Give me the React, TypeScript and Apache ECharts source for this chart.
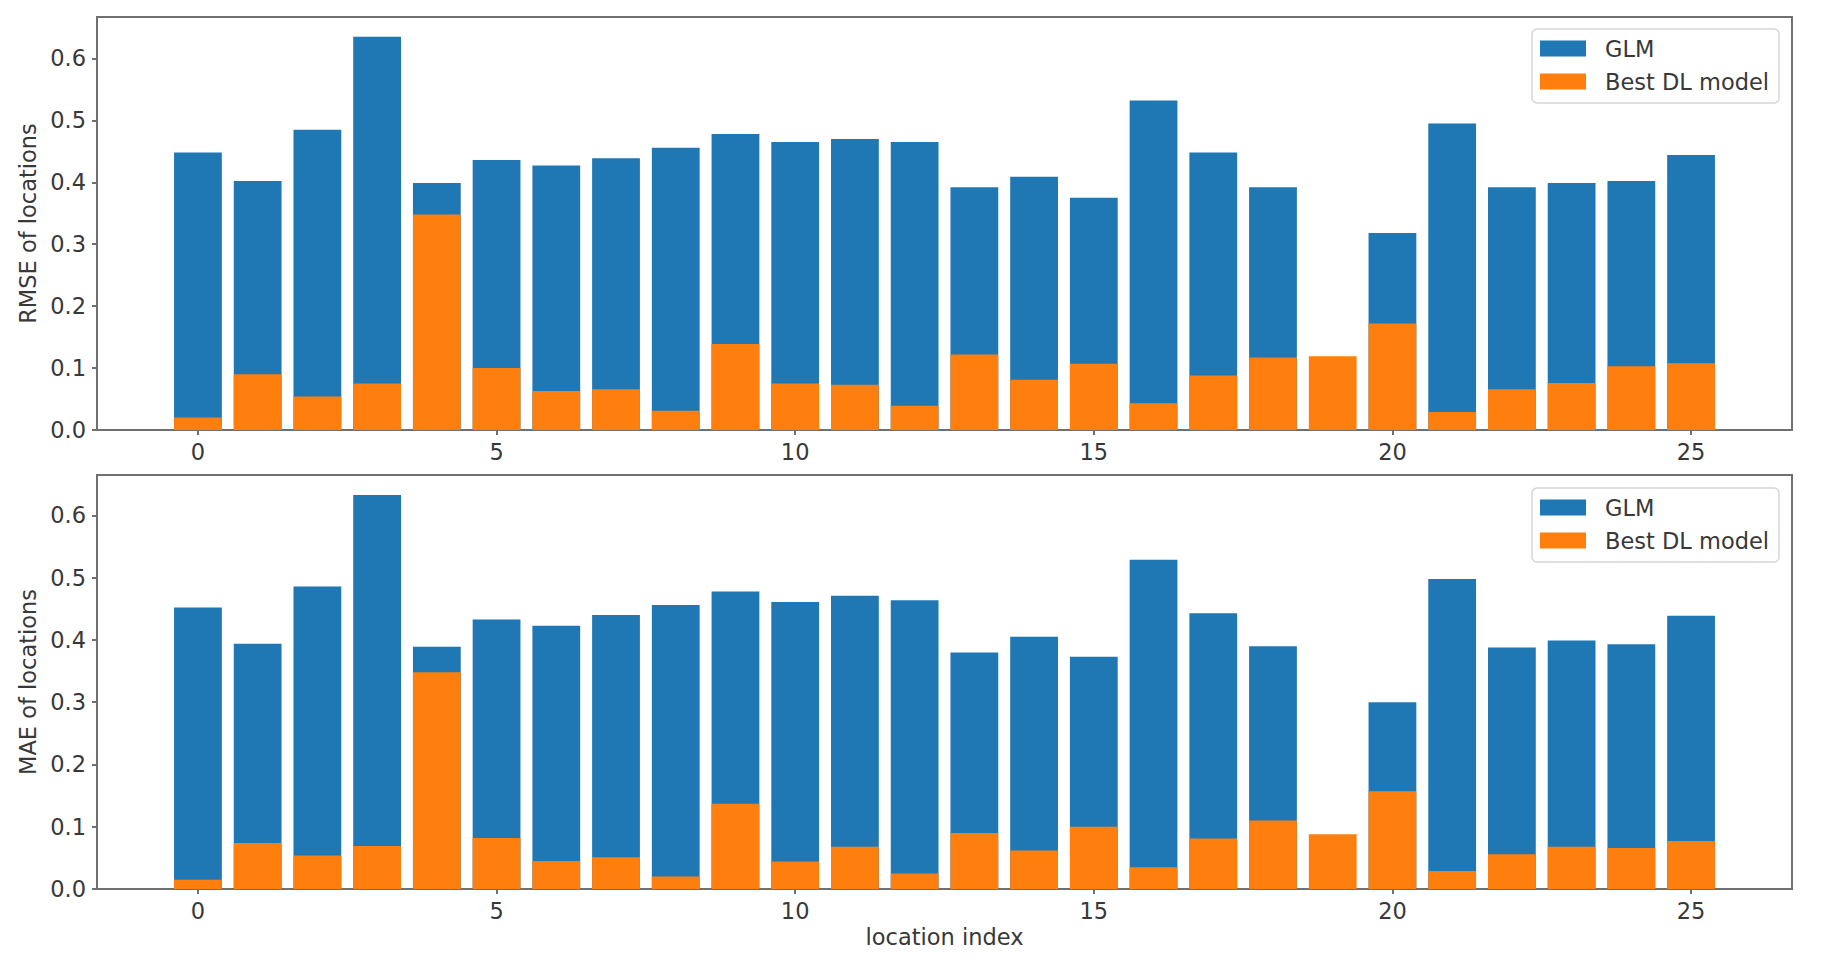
import React, { useEffect, useRef } from "react";
import * as echarts from "echarts";

const locationIndex = [0, 1, 2, 3, 4, 5, 6, 7, 8, 9, 10, 11, 12, 13, 14, 15, 16, 17, 18, 19, 20, 21, 22, 23, 24, 25];
const xTickValues = [0, 5, 10, 15, 20, 25];
const yTickValues = [0, 0.1, 0.2, 0.3, 0.4, 0.5, 0.6];
const seriesNames = ["GLM", "Best DL model"];

const rmseGLM = [0.448, 0.402, 0.485, 0.635, 0.399, 0.436, 0.427, 0.439, 0.456, 0.478, 0.465, 0.470, 0.465, 0.392, 0.409, 0.375, 0.532, 0.448, 0.392, null, 0.318, 0.495, 0.392, 0.399, 0.402, 0.444];
const rmseDL = [0.020, 0.090, 0.054, 0.075, 0.348, 0.100, 0.063, 0.066, 0.031, 0.139, 0.075, 0.073, 0.039, 0.122, 0.081, 0.107, 0.043, 0.088, 0.117, 0.119, 0.172, 0.029, 0.066, 0.076, 0.103, 0.108];
const maeGLM = [0.452, 0.394, 0.486, 0.633, 0.389, 0.433, 0.423, 0.440, 0.456, 0.478, 0.461, 0.471, 0.464, 0.380, 0.405, 0.373, 0.529, 0.443, 0.390, null, 0.300, 0.498, 0.388, 0.399, 0.393, 0.439];
const maeDL = [0.015, 0.074, 0.054, 0.069, 0.348, 0.082, 0.045, 0.051, 0.020, 0.137, 0.044, 0.068, 0.025, 0.090, 0.062, 0.100, 0.035, 0.081, 0.110, 0.088, 0.157, 0.029, 0.056, 0.068, 0.066, 0.077];

const COLORS = ["#1f77b4", "#ff7f0e"];
const FONT = "DejaVu Sans";
const TEXT = "#383838";
const SPINE = "#707070";
const FS = 22.5;
const BAR_HALF = 0.4;

function toData(vals: (number | null)[]) {
  const out: number[][] = [];
  vals.forEach((v, k) => {
    if (v !== null && v !== undefined) out.push([locationIndex[k], v]);
  });
  return out;
}

function barSeries(name: string, vals: (number | null)[], gridIdx: number, color: string) {
  return {
    type: "custom",
    name,
    xAxisIndex: gridIdx,
    yAxisIndex: gridIdx,
    itemStyle: { color },
    encode: { x: 0, y: 1 },
    data: toData(vals),
    renderItem: (params: any, api: any) => {
      const x = api.value(0);
      const v = api.value(1);
      const p1 = api.coord([x - BAR_HALF, v]);
      const p0 = api.coord([x + BAR_HALF, 0]);
      return {
        type: "rect",
        shape: { x: p1[0], y: p1[1], width: p0[0] - p1[0], height: p0[1] - p1[1] },
        style: { fill: color },
      };
    },
  };
}

function xAxis(gridIndex: number, name: string) {
  return {
    type: "value",
    gridIndex,
    position: "bottom",
    min: -1.69,
    max: 26.69,
    name,
    nameLocation: "middle",
    nameGap: 36,
    nameTextStyle: { fontSize: FS, color: TEXT, fontFamily: FONT },
    axisLine: { show: false, onZero: false },
    splitLine: { show: false },
    axisTick: { show: true, length: 5, lineStyle: { color: SPINE, width: 2 }, customValues: xTickValues },
    axisLabel: {
      show: true,
      margin: 10,
      fontSize: FS,
      color: TEXT,
      fontFamily: FONT,
      customValues: xTickValues,
      formatter: (v: number) => String(Math.round(v)),
    },
  };
}

function yAxis(gridIndex: number, name: string, max: number) {
  return {
    type: "value",
    gridIndex,
    position: "left",
    min: 0,
    max,
    name,
    nameLocation: "middle",
    nameGap: 56,
    nameTextStyle: { fontSize: FS, color: TEXT, fontFamily: FONT },
    axisLine: { show: false, onZero: false },
    splitLine: { show: false },
    axisTick: { show: true, length: 5, lineStyle: { color: SPINE, width: 2 }, customValues: yTickValues },
    axisLabel: {
      show: true,
      margin: 11,
      fontSize: FS,
      color: TEXT,
      fontFamily: FONT,
      customValues: yTickValues,
      formatter: (v: number) => v.toFixed(1),
    },
  };
}

function legend(top: number) {
  return {
    orient: "vertical",
    left: 1532,
    top,
    icon: "rect",
    itemWidth: 46,
    itemHeight: 16,
    itemGap: 10,
    padding: [8, 10, 10, 8],
    borderColor: "#d6d6d6",
    borderWidth: 1.5,
    borderRadius: 5,
    backgroundColor: "#ffffff",
    selectedMode: false,
    data: seriesNames,
    textStyle: { fontSize: FS, color: TEXT, fontFamily: FONT, padding: [0, 0, 0, 14] },
  };
}

export default function App() {
  const ref = useRef<HTMLDivElement>(null);
  useEffect(() => {
    if (!ref.current) return;
    const chart = echarts.init(ref.current, null, { renderer: "svg" });
    const gridBase = { left: 97, width: 1695, show: true, borderColor: SPINE, borderWidth: 2, backgroundColor: "transparent" };
    chart.setOption({
      animation: false,
      backgroundColor: "#ffffff",
      textStyle: { fontFamily: FONT },
      color: COLORS,
      grid: [
        { ...gridBase, top: 17, height: 413 },
        { ...gridBase, top: 475, height: 414 },
      ],
      xAxis: [xAxis(0, ""), xAxis(1, "location index")],
      yAxis: [yAxis(0, "RMSE of locations", 0.667), yAxis(1, "MAE of locations", 0.665)],
      legend: [legend(29), legend(488)],
      series: [
        barSeries(seriesNames[0], rmseGLM, 0, COLORS[0]),
        barSeries(seriesNames[1], rmseDL, 0, COLORS[1]),
        barSeries(seriesNames[0], maeGLM, 1, COLORS[0]),
        barSeries(seriesNames[1], maeDL, 1, COLORS[1]),
      ],
    });
    return () => chart.dispose();
  }, []);
  return <div ref={ref} style={{ position: "absolute", left: 0, top: 0, width: 1827, height: 966 }} />;
}
